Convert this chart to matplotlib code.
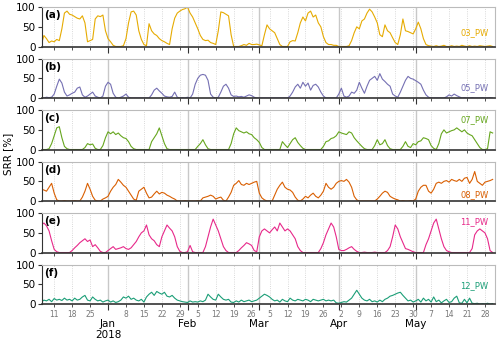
import numpy as np
import matplotlib
matplotlib.use('Agg')
import matplotlib.pyplot as plt
import matplotlib.dates as mdates
from matplotlib.ticker import FuncFormatter

# daily SRR values [%], 6 Dec 2017 .. 31 May 2018
srr_03 = [5, 28, 20, 10, 14, 12, 18, 15, 45, 85, 90, 82, 80, 76, 72, 70, 78, 60, 12, 15,
          18, 70, 78, 76, 80, 40, 20, 12, 3, 0, 0, 0, 2, 20, 60, 88, 90, 80, 40, 18,
          5, 2, 58, 40, 32, 28, 20, 15, 12, 8, 5, 45, 72, 85, 90, 94, 96, 100, 85, 75,
          60, 45, 28, 18, 15, 16, 10, 8, 5, 40, 88, 86, 82, 78, 30, 0, 0, 0, 2, 5,
          3, 8, 5, 5, 6, 4, 2, 30, 55, 45, 40, 35, 20, 5, 0, 0, 0, 12, 15, 14,
          35, 60, 75, 65, 85, 90, 75, 80, 60, 50, 25, 10, 5, 5, 3, 3, 0, 0, 0, 0,
          2, 15, 35, 50, 45, 65, 70, 85, 95, 88, 75, 60, 30, 25, 55, 40, 35, 22, 10, 5,
          30, 70, 40, 38, 35, 32, 45, 62, 45, 20, 5, 2, 1, 0, 2, 0, 1, 3, 0, 0,
          2, 0, 1, 0, 3, 1, 0, 2, 0, 1, 0, 2, 1, 0, 1, 2, 0]
srr_05 = [1, 0, 2, 1, 2, 10, 30, 48, 38, 15, 5, 8, 12, 15, 25, 28, 8, 2, 5, 10,
          15, 5, 2, 0, 5, 30, 40, 35, 12, 2, 0, 2, 5, 10, 2, 0, 0, 0, 0, 0,
          0, 0, 0, 8, 20, 25, 18, 12, 5, 3, 2, 4, 15, 2, 0, 1, 0, 2, 0, 10,
          35, 50, 58, 60, 58, 45, 10, 2, 0, 2, 15, 30, 35, 25, 8, 4, 5, 3, 4, 2,
          5, 8, 6, 2, 0, 0, 0, 0, 0, 0, 0, 0, 0, 0, 0, 0, 0, 5, 15, 28,
          35, 25, 40, 30, 38, 20, 32, 35, 28, 15, 5, 0, 0, 0, 0, 0, 10, 25, 5, 2,
          5, 15, 12, 20, 40, 25, 12, 30, 45, 50, 55, 45, 62, 48, 42, 35, 30, 10, 5, 2,
          15, 30, 45, 55, 50, 48, 44, 40, 35, 20, 8, 2, 0, 0, 0, 0, 0, 0, 3, 8,
          5, 10, 6, 3, 0, 1, 0, 0, 1, 0, 0, 0, 1, 0, 0, 1, 0]
srr_07 = [0, 0, 0, 2, 15, 35, 55, 58, 30, 8, 2, 0, 0, 0, 0, 0, 0, 5, 15, 12,
          14, 3, 0, 0, 10, 30, 45, 40, 45, 38, 42, 35, 30, 28, 20, 8, 2, 0, 0, 0,
          0, 0, 0, 20, 30, 40, 55, 35, 15, 2, 0, 0, 0, 0, 0, 0, 0, 0, 0, 0,
          0, 8, 15, 25, 12, 2, 0, 0, 0, 0, 0, 0, 0, 0, 15, 40, 55, 48, 45, 42,
          45, 40, 38, 30, 25, 18, 5, 0, 0, 0, 0, 0, 0, 0, 20, 12, 5, 15, 25, 30,
          18, 10, 3, 0, 0, 0, 0, 0, 0, 0, 8, 20, 22, 28, 30, 35, 45, 42, 40, 38,
          45, 42, 30, 22, 15, 8, 2, 0, 0, 0, 10, 25, 12, 15, 25, 10, 2, 0, 0, 0,
          0, 8, 20, 8, 5, 15, 12, 20, 22, 30, 28, 25, 10, 3, 0, 15, 40, 50, 42, 45,
          48, 50, 55, 50, 45, 50, 42, 38, 35, 25, 15, 5, 0, 0, 2, 45, 42]
srr_08 = [30, 28, 25, 35, 45, 20, 3, 0, 0, 1, 0, 0, 0, 1, 0, 0, 10, 25, 45, 30,
          12, 2, 0, 0, 5, 8, 12, 25, 35, 42, 55, 48, 40, 35, 25, 15, 5, 2, 25, 30,
          35, 20, 8, 10, 18, 25, 18, 22, 20, 15, 12, 8, 5, 0, 0, 0, 1, 0, 0, 0,
          0, 1, 0, 8, 10, 12, 15, 12, 5, 8, 10, 2, 0, 10, 22, 40, 45, 52, 42, 40,
          45, 42, 45, 48, 50, 20, 8, 3, 0, 0, 0, 15, 30, 40, 48, 35, 30, 28, 22, 10,
          2, 0, 5, 12, 8, 15, 20, 12, 8, 15, 25, 45, 35, 30, 35, 45, 50, 52, 50, 55,
          48, 35, 12, 3, 0, 0, 0, 0, 0, 0, 0, 5, 12, 20, 25, 22, 12, 8, 5, 3,
          0, 1, 0, 0, 1, 0, 5, 25, 35, 40, 40, 25, 20, 30, 45, 48, 45, 50, 52, 48,
          55, 52, 50, 55, 50, 58, 60, 45, 55, 75, 50, 45, 40, 48, 50, 52, 55]
srr_11 = [70, 75, 68, 55, 30, 8, 2, 0, 0, 0, 0, 0, 5, 12, 18, 25, 30, 35, 28, 32,
          15, 20, 12, 3, 0, 0, 5, 10, 15, 8, 10, 12, 15, 10, 8, 12, 20, 28, 40, 50,
          55, 70, 45, 35, 30, 20, 15, 40, 55, 70, 62, 55, 40, 15, 3, 0, 0, 2, 18, 2,
          0, 0, 0, 0, 15, 40, 65, 85, 70, 55, 35, 15, 5, 0, 0, 0, 0, 5, 12, 18,
          25, 22, 18, 5, 2, 40, 55, 60, 55, 50, 58, 65, 55, 75, 65, 55, 60, 55, 45, 35,
          15, 5, 0, 0, 0, 0, 0, 0, 0, 10, 25, 45, 60, 75, 65, 40, 8, 5, 5, 8,
          12, 15, 8, 3, 0, 0, 1, 0, 0, 0, 1, 0, 0, 0, 0, 5, 15, 40, 70, 60,
          40, 25, 10, 8, 5, 2, 0, 0, 0, 0, 20, 35, 55, 75, 85, 60, 35, 15, 5, 2,
          0, 0, 0, 0, 0, 0, 0, 0, 10, 45, 55, 60, 55, 50, 35, 5, 0]
srr_12 = [5, 10, 8, 12, 6, 14, 10, 12, 9, 15, 10, 12, 8, 15, 10, 12, 18, 22, 10, 8,
          18, 12, 8, 10, 5, 8, 10, 5, 8, 4, 6, 10, 18, 15, 20, 12, 15, 10, 8, 12,
          5, 18, 25, 30, 22, 32, 28, 25, 30, 20, 18, 22, 15, 10, 8, 6, 5, 4, 8, 5,
          6, 5, 8, 6, 10, 25, 18, 12, 10, 25, 18, 12, 10, 12, 5, 4, 8, 5, 10, 6,
          8, 10, 6, 8, 10, 15, 20, 25, 22, 18, 12, 8, 10, 5, 12, 8, 6, 15, 10, 8,
          12, 10, 8, 12, 10, 6, 12, 10, 8, 10, 12, 8, 10, 8, 10, 3, 2, 4, 6, 5,
          10, 15, 25, 35, 25, 15, 10, 8, 12, 6, 8, 5, 10, 6, 12, 15, 20, 22, 25, 28,
          30, 22, 15, 8, 10, 5, 8, 12, 5, 15, 8, 12, 5, 18, 6, 10, 3, 8, 12, 4,
          6, 15, 20, 3, 2, 12, 3, 15, 2, 1, 2, 0, 1, 0, 2, 0, 1]

series = [srr_03, srr_05, srr_07, srr_08, srr_11, srr_12]
names = ['03_PW', '05_PW', '07_PW', '08_PW', '11_PW', '12_PW']
letters = ['(a)', '(b)', '(c)', '(d)', '(e)', '(f)']
colors = ['#e6ab02', '#7570b3', '#66a61e', '#d95f02', '#e7298a', '#1b9e77']
name_y = [0.35, 0.26, 0.76, 0.17, 0.79, 0.46]

dates = np.datetime64('2017-12-06') + np.arange(len(srr_03)).astype('timedelta64[D]')

fig, axes = plt.subplots(6, 1, figsize=(5, 3.42), dpi=100, sharex=True)
fig.subplots_adjust(left=0.084, right=0.99, top=0.979, bottom=0.111, hspace=0.31)

for i, ax in enumerate(axes):
    ax.plot(dates, series[i], color=colors[i], lw=0.8)
    ax.set_ylim(0, 100)
    ax.set_yticks([0, 50, 100])
    ax.set_xlim(np.datetime64('2017-12-06T06'), np.datetime64('2018-05-31T22'))
    ax.xaxis.set_major_locator(mdates.MonthLocator())
    ax.xaxis.set_minor_locator(mdates.WeekdayLocator(byweekday=mdates.MO))
    ax.grid(axis='x', which='major', color='#c8c8c8', lw=1.0)
    ax.grid(axis='x', which='minor', color='#cccccc', lw=0.6, ls=':')
    ax.set_axisbelow(True)
    for s in ['top', 'right']:
        ax.spines[s].set_color('#bbbbbb')
    for s in ['left', 'bottom']:
        ax.spines[s].set_color('#333333')
    ax.spines['bottom'].set_linewidth(1.2)
    ax.tick_params(axis='y', labelsize=7.5, length=3, pad=1.5, color='#333333')
    ax.tick_params(axis='x', which='major', length=4, labelsize=7.5, pad=6.5, color='#333333')
    ax.tick_params(axis='x', which='minor', length=2.5, labelsize=5.5, pad=1.5,
                   labelcolor='#777777', color='#333333')
    ax.text(0.004, 0.8, letters[i], transform=ax.transAxes, fontsize=7.5,
            fontweight='bold', ha='left', va='center')
    ax.text(0.986, name_y[i], names[i], transform=ax.transAxes, fontsize=6,
            color=colors[i], ha='right', va='center')

def major_fmt(x, pos):
    d = mdates.num2date(x)
    if d.month == 1:
        return d.strftime('%b') + '\n' + d.strftime('%Y')
    return d.strftime('%b')

def minor_fmt(x, pos):
    return str(mdates.num2date(x).day)

axes[-1].xaxis.set_major_formatter(FuncFormatter(major_fmt))
axes[-1].xaxis.set_minor_formatter(FuncFormatter(minor_fmt))

fig.text(0.016, 0.55, 'SRR [%]', rotation=90, fontsize=7.5, ha='center', va='center')

fig.savefig('out.png', dpi=100)
